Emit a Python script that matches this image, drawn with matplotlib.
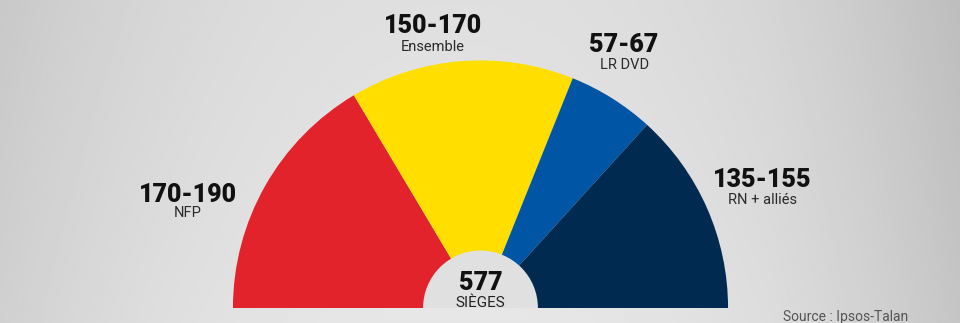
"""Half-donut seat projection chart (Ipsos-Talan)."""

import matplotlib

matplotlib.use("Agg")
import matplotlib.pyplot as plt
import numpy as np
from matplotlib.patches import Wedge

groups = ["NFP", "Ensemble", "LR DVD", "RN + alliés"]
seats_low = [170, 150, 57, 135]
seats_high = [190, 170, 67, 155]
colors = ["#e3232c", "#ffde00", "#0055a4", "#002a4f"]
total_seats = 577
source = "Source : Ipsos-Talan"

# label baselines (data units, radius of the arc = 1): number, then group name
label_x = [-1.182, -0.192, 0.580, 1.139]
num_y = [0.430, 1.111, 1.034, 0.487]
name_y = [0.368, 1.040, 0.966, 0.420]

FONT = ["Roboto", "DejaVu Sans"]


def main() -> None:
    fig = plt.figure(figsize=(9.6, 3.23), dpi=100)
    ax = fig.add_axes([0, 0, 1, 1])

    xmin, xmax = -1.941, 1.937
    ymin, ymax = -0.0606, 1.244

    # grey studio backdrop, lighter in the middle
    gx = np.linspace(-1, 1, 400)
    gy = np.linspace(0, 1, 140)
    X, Y = np.meshgrid(gx, gy)
    shade = 0.905 - 0.10 * np.abs(X + 0.05) ** 2.2 - 0.03 * Y
    shade = shade - 0.05 * np.clip(X - 0.6, 0, None)
    ax.imshow(shade, cmap="gray", vmin=0, vmax=1, extent=[xmin, xmax, ymin, ymax],
              origin="lower", aspect="auto", zorder=0)

    mids = [(lo + hi) / 2 for lo, hi in zip(seats_low, seats_high)]
    ax.pie(mids + [sum(mids)], colors=colors + ["none"], startangle=180,
           counterclock=False, radius=1.0, center=(0, 0),
           wedgeprops={"linewidth": 0})

    ax.add_patch(Wedge((0, 0), 0.232, 0, 180, facecolor="#e0e0e0",
                       edgecolor="none", zorder=5))

    for x, ny, gy_, grp, lo, hi in zip(label_x, num_y, name_y, groups,
                                       seats_low, seats_high):
        ax.text(x, ny, f"{lo}-{hi}", ha="center", va="baseline", fontsize=18,
                fontweight="black", family=FONT, color="#111111")
        ax.text(x, gy_, grp, ha="center", va="baseline", fontsize=10.5,
                family=FONT, color="#2a2a2a")

    ax.text(0, 0.0727, str(total_seats), ha="center", va="baseline", fontsize=18,
            fontweight="black", family=FONT, color="#111111", zorder=6)
    ax.text(0, 0.004, "SIÈGES", ha="center", va="baseline", fontsize=11,
            family=FONT, color="#222222", zorder=6)

    ax.text(1.222, -0.054, source, ha="left", va="baseline", fontsize=10,
            family=FONT, color="#555555")

    ax.set_xlim(xmin, xmax)
    ax.set_ylim(ymin, ymax)
    ax.set_aspect("auto")
    ax.axis("off")

    fig.savefig("out.png", dpi=100)
    plt.close(fig)


if __name__ == "__main__":
    main()
